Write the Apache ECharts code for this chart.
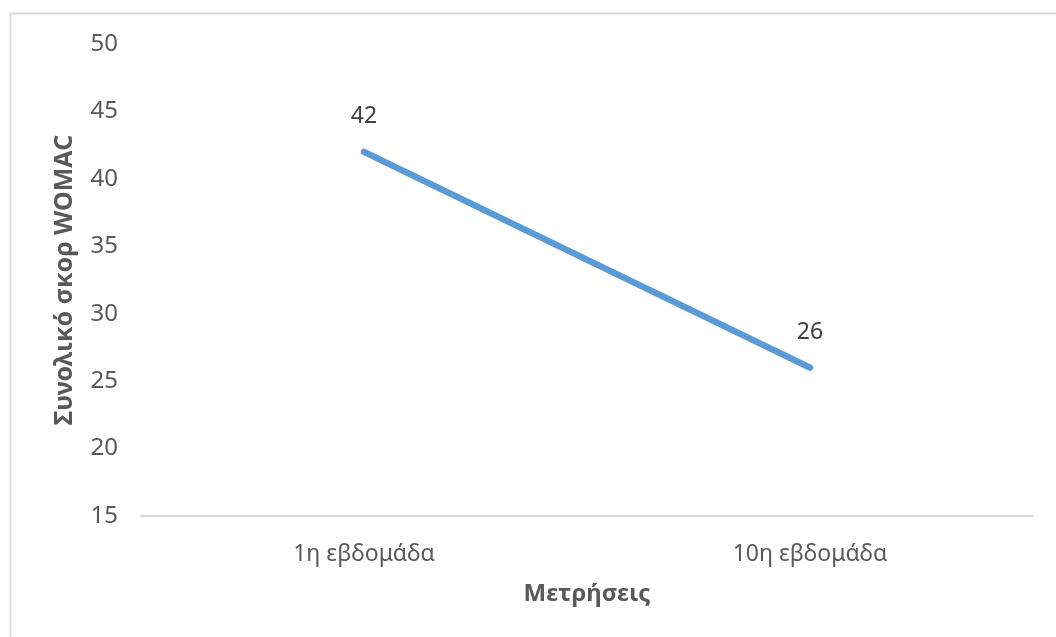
<!DOCTYPE html>
<html>
<head>
<meta charset="utf-8">
<script src="https://cdn.jsdelivr.net/npm/echarts@6/dist/echarts.min.js"></script>
<style>
  html, body { margin: 0; padding: 0; background: #ffffff; }
  #chart { width: 1056px; height: 637px; }
</style>
</head>
<body>
<div id="chart"></div>
<script>
// Total WOMAC score at the two measurement points
const categories = ['1η εβδομάδα', '10η εβδομάδα'];
const womacScores = [42, 26];
const yAxisTitle = 'Συνολικό σκορ WOMAC';
const xAxisTitle = 'Μετρήσεις';

const textColor = '#595959';
const lineColor = '#5B9BD5';
const fontFamily = '"Noto Sans", "Open Sans", sans-serif';

const chart = echarts.init(document.getElementById('chart'), null, { renderer: 'canvas' });

chart.setOption({
  backgroundColor: '#ffffff',
  animation: false,
  textStyle: { fontFamily: fontFamily },
  graphic: [
    {
      // chart area frame
      type: 'rect',
      left: 8,
      top: 11,
      shape: { x: 0, y: 0, width: 1200, height: 800 },
      style: { fill: 'none', stroke: '#D9D9D9', lineWidth: 2 },
      silent: true,
      z: -1
    }
  ],
  grid: { left: 141, right: 23, top: 44, bottom: 121, containLabel: false },
  xAxis: {
    type: 'category',
    data: categories,
    boundaryGap: true,
    name: xAxisTitle,
    nameLocation: 'middle',
    nameGap: 66,
    nameTextStyle: { color: textColor, fontSize: 24, fontWeight: 'bold', fontFamily: fontFamily },
    axisLine: { show: true, lineStyle: { color: '#D9D9D9', width: 2 } },
    axisTick: { show: false },
    axisLabel: { color: textColor, fontSize: 23, margin: 27, fontFamily: fontFamily },
    splitLine: { show: false }
  },
  yAxis: {
    type: 'value',
    min: 15,
    max: 50,
    interval: 5,
    name: yAxisTitle,
    nameLocation: 'middle',
    nameGap: 64,
    nameRotate: 90,
    nameTextStyle: { color: textColor, fontSize: 25, fontWeight: 'bold', fontFamily: fontFamily },
    axisLine: { show: false },
    axisTick: { show: false },
    axisLabel: { color: textColor, fontSize: 24, margin: 23, fontFamily: fontFamily },
    splitLine: { show: false }
  },
  series: [
    {
      type: 'line',
      data: womacScores,
      symbol: 'circle',
      symbolSize: 5,
      showSymbol: true,
      lineStyle: { color: lineColor, width: 6.5, cap: 'round', join: 'round' },
      itemStyle: { color: lineColor, borderWidth: 0 },
      label: {
        show: true,
        position: 'top',
        distance: 21,
        color: '#404040',
        fontSize: 23,
        fontFamily: fontFamily
      }
    }
  ]
});
</script>
</body>
</html>
